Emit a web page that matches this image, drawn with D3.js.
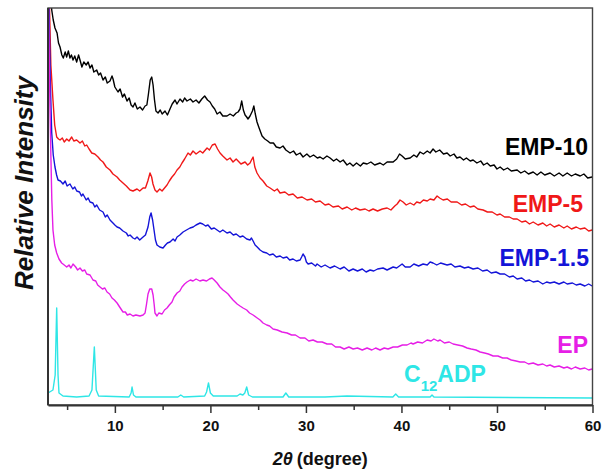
<!DOCTYPE html>
<html>
<head>
<meta charset="utf-8">
<script src="https://cdn.jsdelivr.net/npm/d3@7"></script>
<style>
	body { margin: 0; background: #fff; }
	svg { font-family: "Liberation Sans", Arial, sans-serif; }
	.tick text { font-weight: bold; font-size: 15px; fill: #111; }
</style>
</head>
<body>
<script>
//2theta (degree) vs relative intensity (a.u.)
var emp10 = [[3.1,470],[3.25,420],[3.39,395],[3.55,385],[3.73,377],[3.95,372],[4.1,362],[4.26,358],[4.45,350],[4.6,347],[4.8,353],[4.95,348],[5.13,354],[5.3,347],[5.45,350],[5.62,345],[5.8,349],[6.0,343],[6.2,350],[6.35,345],[6.55,338],[6.75,343],[7.0,340],[7.2,343],[7.4,337],[7.6,340],[7.8,333],[8.1,335],[8.3,330],[8.5,332],[8.76,325],[9.0,328],[9.2,322],[9.49,324],[9.7,329],[9.81,326],[10.0,318],[10.33,313],[10.55,316],[10.8,308],[11.0,311],[11.27,304],[11.5,307],[11.7,300],[11.9,298],[12.1,302],[12.35,296],[12.63,298],[12.9,295],[13.16,299],[13.35,300],[13.5,310],[13.7,325],[13.86,328],[14.0,320],[14.15,305],[14.3,294],[14.52,292],[14.75,295],[14.95,291],[15.25,294],[15.5,290],[15.77,296],[16.0,301],[16.3,305],[16.5,301],[16.82,306],[17.1,303],[17.3,307],[17.55,304],[17.9,306],[18.18,303],[18.5,305],[18.8,302],[19.1,306],[19.4,309],[19.7,305],[19.96,303],[20.2,299],[20.45,296],[20.7,291],[21.0,293],[21.3,289],[21.74,289],[22.06,291],[22.4,289],[22.7,292],[22.9,293],[23.1,296],[23.28,304],[23.45,295],[23.63,290],[23.8,288],[23.94,286],[24.15,289],[24.4,294],[24.55,299],[24.7,291],[24.88,283],[25.1,277],[25.41,269],[25.7,266],[26.0,264],[26.25,262],[26.6,262],[26.9,258],[27.29,257],[27.6,259],[27.9,255],[28.34,252],[28.7,254],[29.0,250],[29.39,252],[29.7,248],[30.1,251],[30.43,248],[30.8,250],[31.2,247],[31.48,248],[31.8,246],[32.2,249],[32.53,247],[32.9,244],[33.2,246],[33.58,243],[33.9,245],[34.3,240],[34.6,242],[34.94,239],[35.3,242],[35.7,239],[36.0,242],[36.4,241],[36.8,243],[37.2,240],[37.76,242],[38.1,240],[38.5,243],[39.13,243],[39.5,246],[39.8,251],[40.07,249],[40.4,246],[40.91,247],[41.3,250],[41.6,248],[41.95,253],[42.3,251],[42.7,254],[43.0,252],[43.31,256],[43.6,253],[44.0,255],[44.4,251],[44.78,252],[45.1,249],[45.5,251],[45.8,247],[46.13,248],[46.5,245],[46.8,247],[47.2,244],[47.5,245],[47.9,242],[48.3,244],[48.6,240],[48.97,242],[49.3,239],[49.7,240],[50.0,236],[50.33,238],[50.7,235],[51.1,237],[51.5,234],[52.11,235],[52.5,232],[52.9,234],[53.3,231],[53.79,233],[54.2,230],[54.6,233],[55.0,230],[55.56,232],[56.0,229],[56.5,232],[56.9,229],[57.35,232],[57.8,229],[58.2,231],[58.71,229],[59.1,231],[59.5,227],[59.96,228]];

var emp5 = [[3.0,470],[3.15,400],[3.3,340],[3.52,305],[3.7,280],[3.91,268],[4.1,266],[4.26,265],[4.5,267],[4.7,263],[4.96,266],[5.2,264],[5.48,268],[5.7,264],[6.0,265],[6.35,262],[6.6,264],[6.85,259],[7.05,260],[7.3,256],[7.58,252],[7.9,251],[8.24,248],[8.5,245],[8.76,243],[9.1,238],[9.49,235],[9.8,231],[10.23,228],[10.5,225],[10.85,222],[11.2,219],[11.59,215],[11.9,214],[12.32,216],[12.6,214],[12.95,217],[13.2,217],[13.45,224],[13.68,232],[13.85,228],[13.99,221],[14.2,215],[14.41,213],[14.7,216],[14.94,214],[15.2,217],[15.46,220],[15.7,224],[15.98,228],[16.25,231],[16.51,235],[16.8,238],[17.03,242],[17.3,246],[17.66,252],[17.9,250],[18.18,254],[18.5,251],[18.92,254],[19.2,252],[19.65,257],[19.9,255],[20.2,260],[20.49,261],[20.75,256],[21.01,252],[21.3,249],[21.74,245],[22.06,247],[22.37,243],[22.7,246],[22.9,244],[23.2,241],[23.63,243],[23.9,240],[24.15,242],[24.3,245],[24.47,248],[24.65,238],[24.88,232],[25.2,227],[25.51,224],[25.9,219],[26.25,217],[26.7,214],[27.0,216],[27.29,212],[27.8,213],[28.2,210],[28.65,211],[29.1,207],[29.6,208],[30.12,205],[30.6,206],[31.0,203],[31.48,204],[32.0,200],[32.4,201],[32.84,198],[33.4,199],[33.8,196],[34.31,198],[34.8,195],[35.2,197],[35.67,195],[36.2,196],[36.6,194],[37.03,196],[37.5,194],[38.0,196],[38.5,197],[38.9,195],[39.3,199],[39.55,201],[39.85,205],[40.17,203],[40.5,200],[40.91,202],[41.3,200],[41.6,203],[41.95,202],[42.3,205],[42.7,204],[43.0,206],[43.4,205],[43.73,209],[44.0,207],[44.36,205],[44.8,206],[45.2,203],[45.83,203],[46.3,200],[46.7,201],[47.19,198],[47.6,199],[48.0,196],[48.55,195],[49.0,193],[49.5,193],[50.0,190],[50.33,191],[50.8,188],[51.3,188],[51.7,186],[52.11,186],[52.6,183],[53.0,184],[53.4,181],[53.79,183],[54.3,180],[54.8,182],[55.2,179],[55.56,181],[56.0,178],[56.5,180],[57.0,177],[57.35,179],[57.8,176],[58.3,178],[58.71,176],[59.2,177],[59.6,174],[59.96,175]];

var emp15 = [[3.0,470],[3.12,390],[3.25,320],[3.39,272],[3.55,250],[3.73,238],[3.9,230],[4.05,225],[4.3,224],[4.57,221],[4.8,224],[5.0,219],[5.3,221],[5.6,216],[5.8,218],[6.01,214],[6.3,213],[6.5,209],[6.66,211],[7.0,205],[7.2,207],[7.4,203],[7.7,202],[7.9,198],[8.1,200],[8.4,195],[8.76,193],[9.0,188],[9.2,190],[9.49,185],[9.8,182],[10.0,180],[10.23,178],[10.5,177],[10.85,174],[11.2,172],[11.4,169],[11.59,170],[11.9,167],[12.1,166],[12.32,168],[12.6,165],[12.95,168],[13.2,170],[13.47,178],[13.65,188],[13.79,192],[13.95,185],[14.1,175],[14.25,165],[14.41,160],[14.7,158],[15.04,157],[15.3,160],[15.5,162],[15.77,163],[16.1,166],[16.3,164],[16.51,168],[16.8,170],[17.14,173],[17.5,175],[17.87,177],[18.2,178],[18.5,180],[18.92,182],[19.2,181],[19.5,179],[19.75,180],[20.1,176],[20.4,177],[20.7,175],[21.0,173],[21.3,175],[21.74,172],[22.06,173],[22.4,170],[22.7,171],[23.1,168],[23.4,169],[23.8,166],[24.15,165],[24.3,167],[24.47,164],[24.68,160],[24.9,158],[25.2,155],[25.51,153],[25.9,152],[26.2,150],[26.56,151],[26.9,148],[27.3,149],[27.61,147],[28.0,148],[28.3,145],[28.65,146],[29.0,144],[29.39,145],[29.55,148],[29.7,151],[29.9,148],[30.05,143],[30.23,141],[30.6,142],[31.0,139],[31.17,141],[31.6,138],[32.0,140],[32.53,137],[33.0,139],[33.58,136],[34.0,138],[34.5,134],[34.94,136],[35.4,134],[35.9,136],[36.3,133],[36.72,135],[37.1,134],[37.5,136],[38.08,137],[38.5,135],[39.13,138],[39.5,137],[40.07,141],[40.4,138],[40.91,138],[41.3,141],[41.8,139],[42.27,141],[42.7,140],[43.0,143],[43.31,142],[43.7,140],[44.1,142],[44.78,140],[45.2,141],[45.6,138],[46.13,139],[46.6,137],[47.0,138],[47.5,136],[48.0,137],[48.5,134],[48.97,135],[49.4,132],[49.9,133],[50.33,131],[50.8,131],[51.3,128],[51.7,129],[52.11,126],[52.6,127],[53.0,124],[53.4,125],[53.79,123],[54.3,124],[54.8,121],[55.2,123],[55.56,122],[56.0,123],[56.5,121],[57.0,123],[57.35,121],[57.9,122],[58.3,120],[58.71,121],[59.2,119],[59.6,121],[59.96,119]];

var ep = [[3.0,430],[3.1,370],[3.2,300],[3.3,250],[3.4,205],[3.52,175],[3.7,160],[3.91,152],[4.15,146],[4.43,142],[4.7,140],[4.96,138],[5.2,140],[5.4,137],[5.62,141],[5.9,138],[6.1,135],[6.35,137],[6.6,134],[6.85,135],[7.05,131],[7.4,130],[7.71,125],[8.0,124],[8.2,120],[8.45,118],[8.7,116],[8.95,117],[9.18,113],[9.45,111],[9.7,107],[9.95,105],[10.23,102],[10.5,98],[10.85,93],[11.1,93],[11.3,90],[11.59,91],[11.9,89],[12.2,90],[12.63,89],[12.95,90],[13.16,92],[13.3,100],[13.47,111],[13.65,116],[13.86,116],[14.0,110],[14.12,100],[14.2,92],[14.41,89],[14.6,92],[14.94,91],[15.2,95],[15.46,97],[15.7,100],[15.98,103],[16.2,108],[16.51,112],[16.8,114],[17.03,118],[17.3,121],[17.55,123],[17.9,125],[18.18,124],[18.5,126],[18.9,124],[19.23,125],[19.6,124],[19.9,126],[20.17,127],[20.4,125],[20.7,122],[21.0,118],[21.32,115],[21.6,113],[21.85,111],[22.1,108],[22.37,105],[22.8,101],[23.1,99],[23.42,97],[23.8,95],[24.1,92],[24.47,90],[24.9,87],[25.2,85],[25.51,82],[25.9,80],[26.2,79],[26.56,76],[27.0,75],[27.5,73],[28.03,72],[28.5,70],[28.9,70],[29.39,67],[29.9,67],[30.3,64],[30.75,65],[31.2,63],[31.7,63],[32.21,61],[32.7,61],[33.1,58],[33.58,58],[34.0,56],[34.5,58],[34.94,56],[35.4,57],[35.9,55],[36.4,57],[36.9,55],[37.3,57],[37.76,55],[38.2,57],[38.6,56],[39.13,58],[39.6,58],[40.1,60],[40.59,60],[41.0,62],[41.22,61],[41.7,63],[42.2,62],[42.69,65],[43.1,64],[43.4,66],[43.8,64],[44.05,65],[44.5,62],[45.0,63],[45.41,61],[45.9,60],[46.4,59],[46.87,57],[47.3,56],[47.8,55],[48.24,53],[48.7,52],[49.1,51],[49.6,49],[50.1,49],[50.6,47],[51.06,47],[51.5,45],[52.0,44],[52.42,43],[52.9,43],[53.3,41],[53.79,42],[54.3,40],[54.8,41],[55.2,39],[55.56,40],[56.0,38],[56.5,39],[57.0,37],[57.35,38],[57.8,36],[58.2,38],[58.71,36],[59.2,37],[59.6,35],[59.96,36]];

var c12adp = [[3.0,12],[3.52,15],[3.75,30],[3.91,97],[4.05,30],[4.15,12],[4.57,9],[6.0,8],[7.3,9],[7.6,15],[7.85,58],[8.05,15],[8.3,9],[11.5,8],[11.7,12],[11.8,18],[11.95,10],[12.2,8],[16.6,8],[16.9,10],[17.2,8],[19.4,9],[19.6,13],[19.8,22],[20.0,12],[20.3,9],[22.8,9],[23.1,11],[23.4,10],[23.6,12],[23.8,18],[24.0,10],[24.4,8],[27.6,8],[27.9,12],[28.2,8],[32.0,8],[34.3,9],[39.1,8],[39.4,11],[39.7,8],[43.0,8],[43.2,10],[43.4,8],[60.0,7]];

var seriesNames = ["EMP-10", "EMP-5", "EMP-1.5", "EP", "C12ADP"],
	seriesData = [emp10, emp5, emp15, ep, c12adp],
	seriesColors = ["#000000", "#f01818", "#1414d8", "#e61ee6", "#2ee6e6"];

var xTicks = [10, 20, 30, 40, 50, 60],
	xMinorTicks = [5, 15, 25, 35, 45, 55];

//////////////
// setup
//////////////
var width = 605,
	height = 474,
	margin = {top: 8, right: 12.5, bottom: 69, left: 48};

var xScale = d3.scaleLinear().domain([3, 60]).range([margin.left, width - margin.right]),
	yScale = d3.scaleLinear().domain([0, 397]).range([height - margin.bottom, margin.top]);

var svg = d3.select("body").append("svg")
	.attr("width", width)
	.attr("height", height);

svg.append("defs").append("clipPath")
	.attr("id", "plotClip")
	.append("rect")
	.attr("x", margin.left)
	.attr("y", margin.top)
	.attr("width", width - margin.right - margin.left)
	.attr("height", height - margin.bottom - margin.top);

//////////////
// curves
//////////////
var line = d3.line()
	.x(function(d) { return xScale(d[0]); })
	.y(function(d) { return yScale(d[1]); });

svg.append("g")
	.attr("clip-path", "url(#plotClip)")
	.selectAll("path")
	.data(seriesData).enter()
		.append("path")
		.attr("fill", "none")
		.attr("stroke", function(d, i) { return seriesColors[i]; })
		.attr("stroke-width", 1.4)
		.attr("stroke-linejoin", "round")
		.attr("d", line);

//////////////
// frame + axes
//////////////
var y0 = height - margin.bottom,
	x1 = width - margin.right;

svg.append("rect")
	.attr("x", margin.left)
	.attr("y", margin.top)
	.attr("width", x1 - margin.left)
	.attr("height", y0 - margin.top)
	.attr("fill", "none")
	.attr("stroke", "#444").attr("stroke-width", 1.4);
svg.append("line")
	.attr("x1", margin.left).attr("y1", margin.top)
	.attr("x2", margin.left).attr("y2", y0)
	.attr("stroke", "#333").attr("stroke-width", 2);

//minor ticks first, major axis on top
svg.append("g")
	.attr("transform", "translate(0," + y0 + ")")
	.call(d3.axisBottom(xScale).tickValues(xMinorTicks).tickSize(5).tickFormat(""))
	.call(function(g) { g.select(".domain").remove(); })
	.selectAll("line").attr("stroke", "#333").attr("stroke-width", 1.5);

var gX = svg.append("g")
	.attr("transform", "translate(0," + y0 + ")")
	.call(d3.axisBottom(xScale).tickValues(xTicks).tickSize(8).tickSizeOuter(0).tickPadding(7));
gX.select(".domain").attr("stroke", "#333").attr("stroke-width", 2);
gX.selectAll(".tick line").attr("stroke", "#333").attr("stroke-width", 1.5);
gX.selectAll(".tick text").attr("font-family", null).attr("font-size", null);

//axes labels
var xTitle = svg.append("text")
	.attr("x", (margin.left + x1) / 2)
	.attr("y", 465)
	.attr("text-anchor", "middle")
	.style("font-weight", "bold")
	.style("font-size", "18px")
	.attr("fill", "#111");
xTitle.append("tspan").style("font-style", "italic").text("2\u03b8");
xTitle.append("tspan").attr("dx", 4).text("(degree)");

svg.append("text")
	.attr("transform", "rotate(-90)")
	.attr("x", -183)
	.attr("y", 33)
	.attr("text-anchor", "middle")
	.style("font-weight", "bold")
	.style("font-style", "italic")
	.style("font-size", "26px")
	.attr("fill", "#111")
	.text("Relative Intensity");

//////////////
// series labels
//////////////
var labelFont = "23px";
[[588, 155], [583, 212], [589, 266], [588, 353]].forEach(function(p, i) {
	svg.append("text")
		.attr("x", p[0])
		.attr("y", p[1])
		.attr("text-anchor", "end")
		.style("font-weight", "bold")
		.style("font-size", labelFont)
		.attr("fill", seriesColors[i])
		.text(seriesNames[i]);
});

var cLabel = svg.append("text")
	.attr("x", 404)
	.attr("y", 382)
	.style("font-weight", "bold")
	.style("font-size", labelFont)
	.attr("fill", seriesColors[4]);
cLabel.append("tspan").text("C");
cLabel.append("tspan").attr("dy", 9).style("font-size", "15px").text("12");
cLabel.append("tspan").attr("dy", -9).text("ADP");
</script>
</body>
</html>
